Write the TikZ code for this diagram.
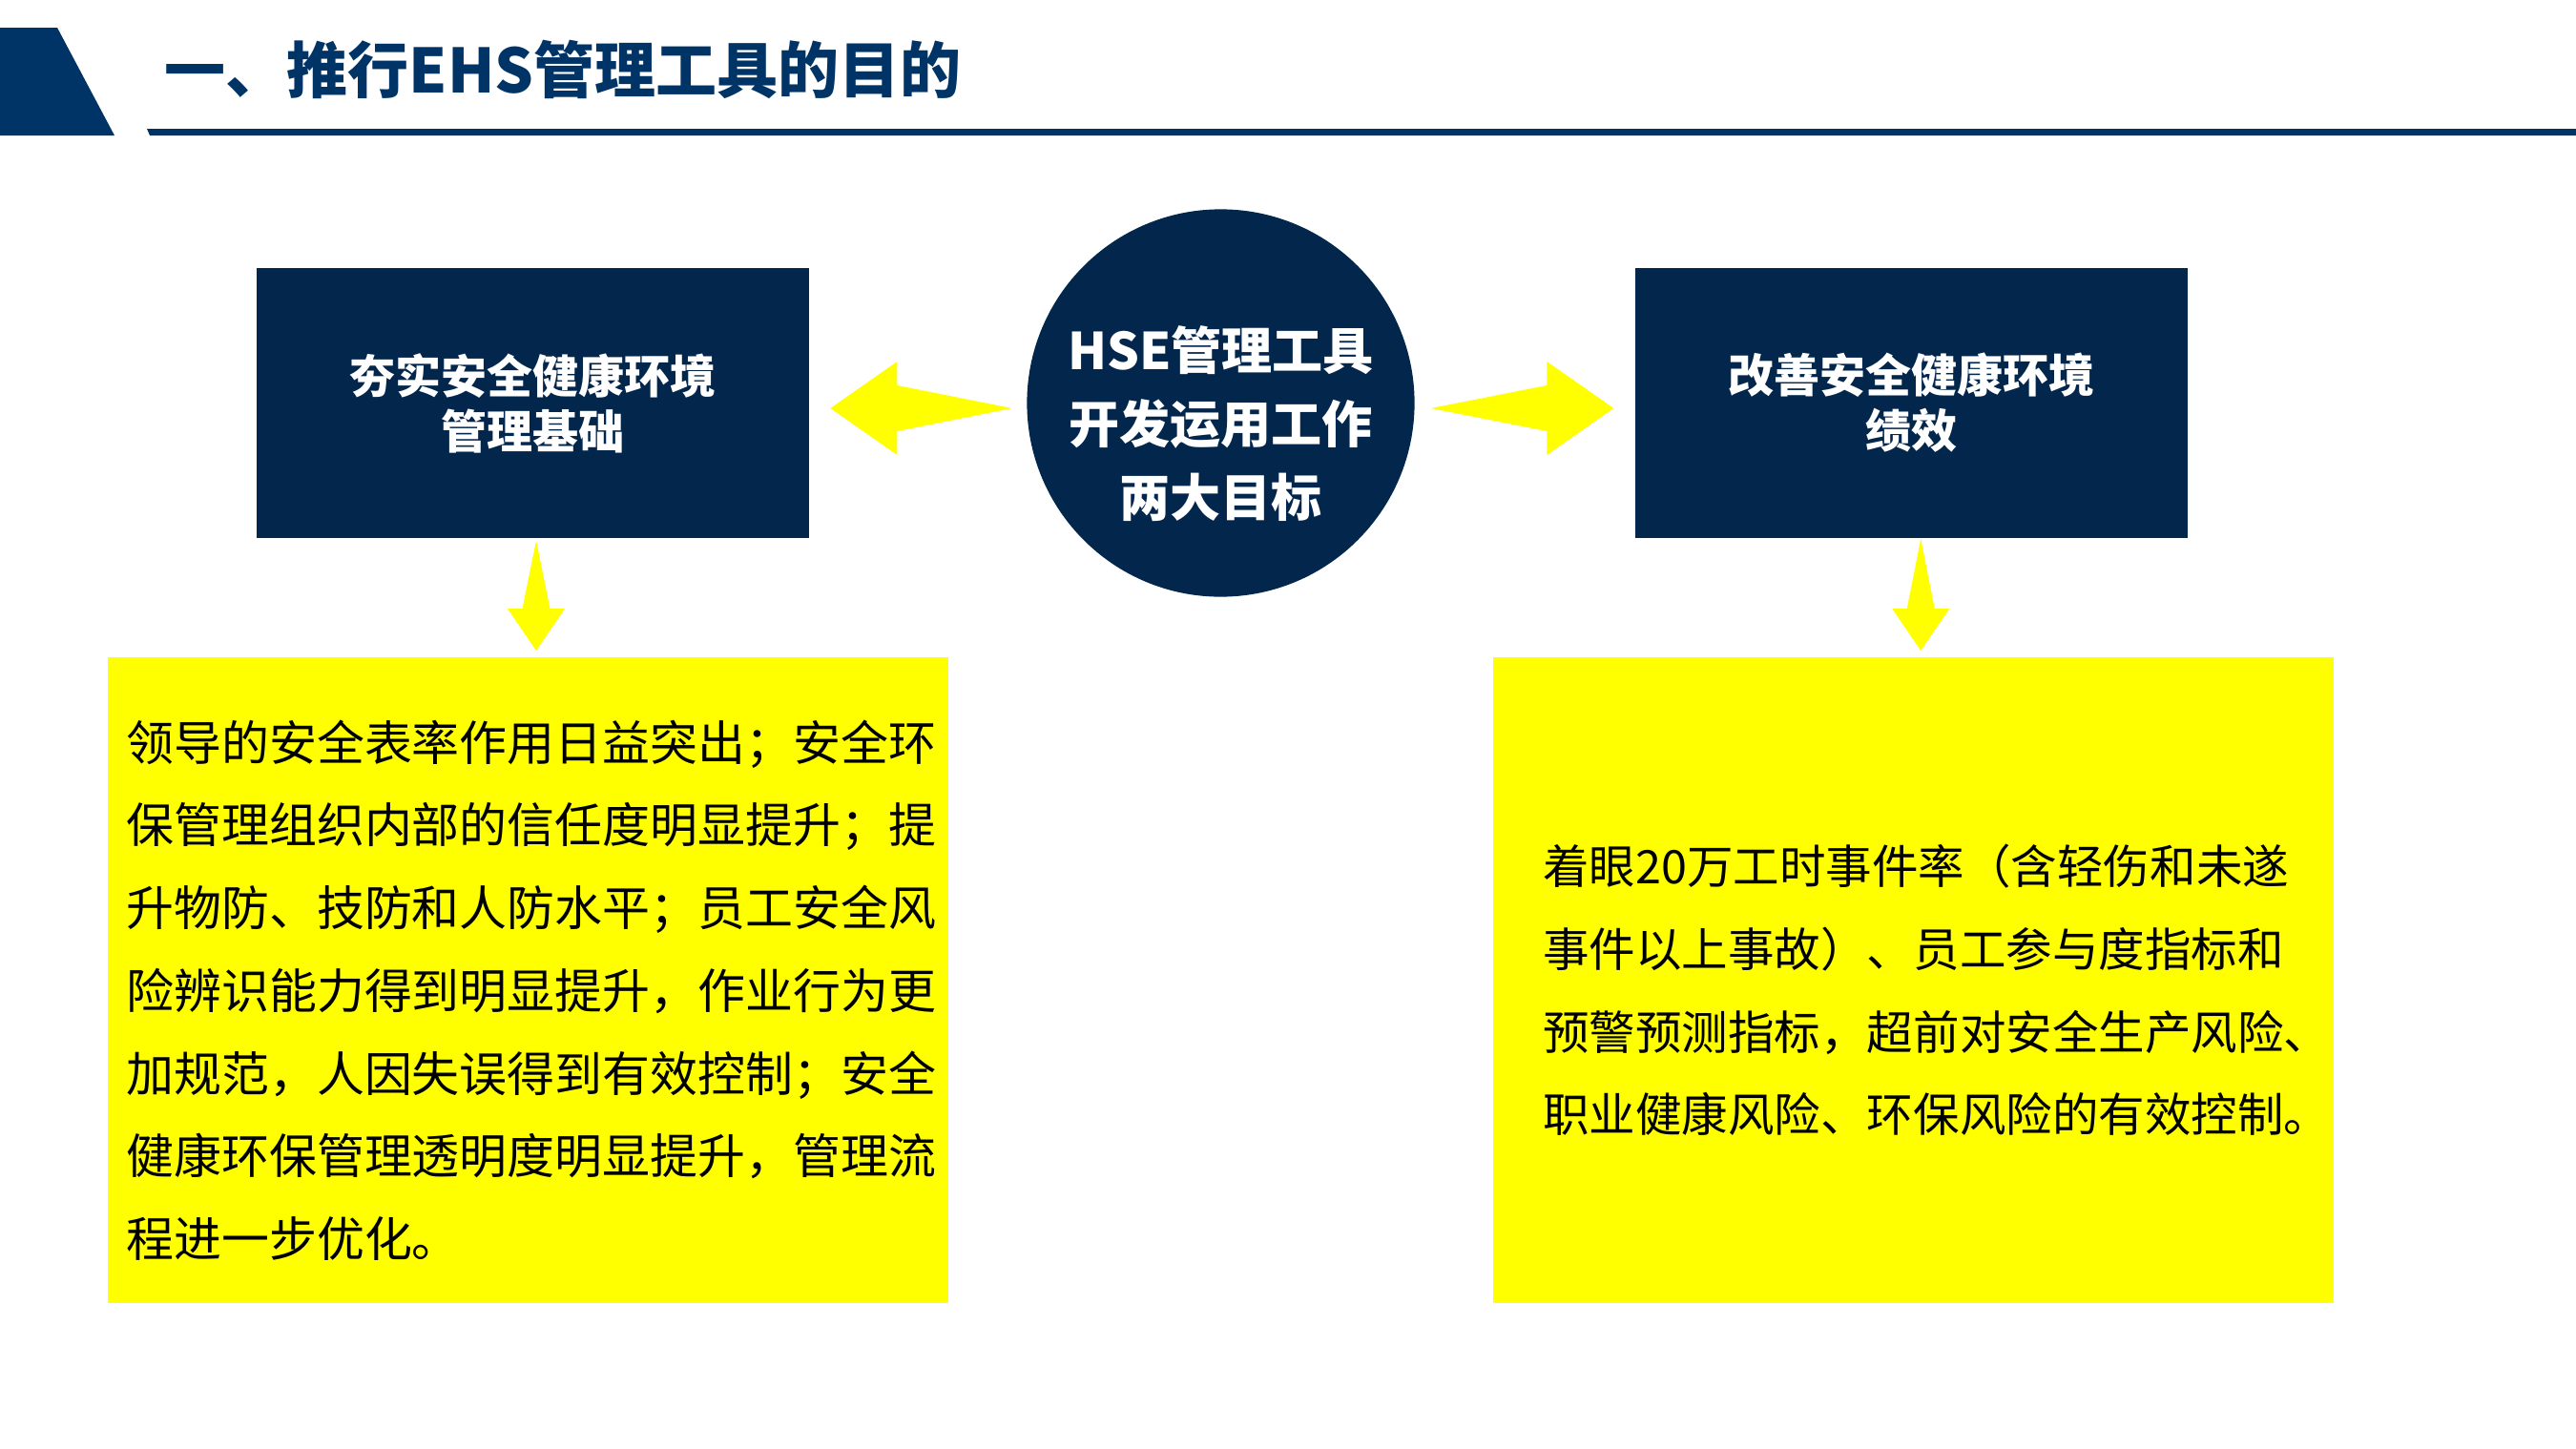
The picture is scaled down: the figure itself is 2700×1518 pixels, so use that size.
\documentclass[tikz,border=0pt]{standalone}
\usepackage{fontspec}
\setmainfont{Noto Sans CJK SC}
\usepackage{tikz}
\usetikzlibrary{positioning,calc}
\definecolor{headblue}{RGB}{0,51,102}
\definecolor{navy}{RGB}{2,38,76}
\definecolor{flash}{RGB}{255,255,0}

\newcommand{\spear}[5]{%
  \coordinate (hb) at ($(#2)!#3!(#1)$);
  \fill[flash] (#1) -- ($(hb)!#5!90:(#2)$) -- ($(hb)!#4!90:(#2)$) -- (#2)
    -- ($(hb)!#4!-90:(#2)$) -- ($(hb)!#5!-90:(#2)$) -- cycle;
}

\begin{document}
\begin{tikzpicture}[x=0.01cm,y=-0.01cm,
goal/.style={fill=navy,rectangle,minimum width=5.79cm,minimum height=2.83cm,inner sep=0pt,
    text=white,align=center,font=\bfseries\fontsize{13.66pt}{16.5pt}\selectfont},
gain/.style={fill=flash,rectangle,minimum width=8.8cm,minimum height=6.77cm,inner sep=0pt},
body/.style={anchor=west,align=left,inner sep=0pt}]
\useasboundingbox (0,0) rectangle (2700,1518);
\fill[headblue] (0,29) -- (60,29) -- (120,142) -- (0,142) -- cycle;
\fill[headblue] (154,135) -- (2700,135) -- (2700,142) -- (157,142) -- cycle;
\node (title) [anchor=west,inner sep=0pt,text=headblue,
    font=\bfseries\fontsize{18.2pt}{22pt}\selectfont] at (172,73) {一、推行EHS管理工具的目的};
\node (hub) [circle,fill=navy,minimum size=4.06cm,inner sep=0pt] at (1279.5,422.5) {};
\node (hubtxt) [text=white,align=center,
    font=\bfseries\fontsize{15.1pt}{21.9pt}\selectfont] at ($(hub)+(0,22)$)
    {HSE管理工具\\开发运用工作\\两大目标};
\node (fnd) [goal] at (558.5,422.5) {夯实安全健康环境\\管理基础};
\node (perf) [goal,right=8.64cm of fnd] {改善安全健康环境\\绩效};
\node (fndbox) [gain] at (553.6,1027.5) {};
\node (perfbox) [gain] at (2005.5,1027.5) {};
\node (fndtxt) [body,font=\fontsize{14.2pt}{24.67pt}\selectfont] at ($(fndbox.west)+(19,10.5)$)
    {领导的安全表率作用日益突出；安全环\\
     保管理组织内部的信任度明显提升；提\\
     升物防、技防和人防水平；员工安全风\\
     险辨识能力得到明显提升，作业行为更\\
     加规范，人因失误得到有效控制；安全\\
     健康环保管理透明度明显提升，管理流\\
     程进一步优化。};
\node (perftxt) [body,font=\fontsize{13.8pt}{24.67pt}\selectfont] at ($(perfbox.west)+(52,10.5)$)
    {着眼20万工时事件率（含轻伤和未遂\\
     事件以上事故）、员工参与度指标和\\
     预警预测指标，超前对安全生产风险、\\
     职业健康风险、环保风险的有效控制。};
\coordinate (lt) at ($(hub.west)+(-15,5.5)$);
\coordinate (lh) at ($(fnd.east)+(21.5,5.5)$);
\spear{lt}{lh}{0.7cm}{0.49cm}{0.24cm}
\coordinate (rt) at ($(hub.east)+(16.5,5.5)$);
\coordinate (rh) at ($(perf.west)+(-22,5.5)$);
\spear{rt}{rh}{0.7cm}{0.49cm}{0.24cm}
\coordinate (dlt) at ($(fnd.south)+(3.5,2)$);
\coordinate (dlh) at ($(dlt |- fndbox.north)+(0,-6)$);
\spear{dlt}{dlh}{0.44cm}{0.3cm}{0.145cm}
\coordinate (drt) at ($(perf.south)+(9.5,0)$);
\coordinate (drh) at ($(drt |- perfbox.north)+(0,-6)$);
\spear{drt}{drh}{0.44cm}{0.3cm}{0.145cm}
\end{tikzpicture}
\end{document}
